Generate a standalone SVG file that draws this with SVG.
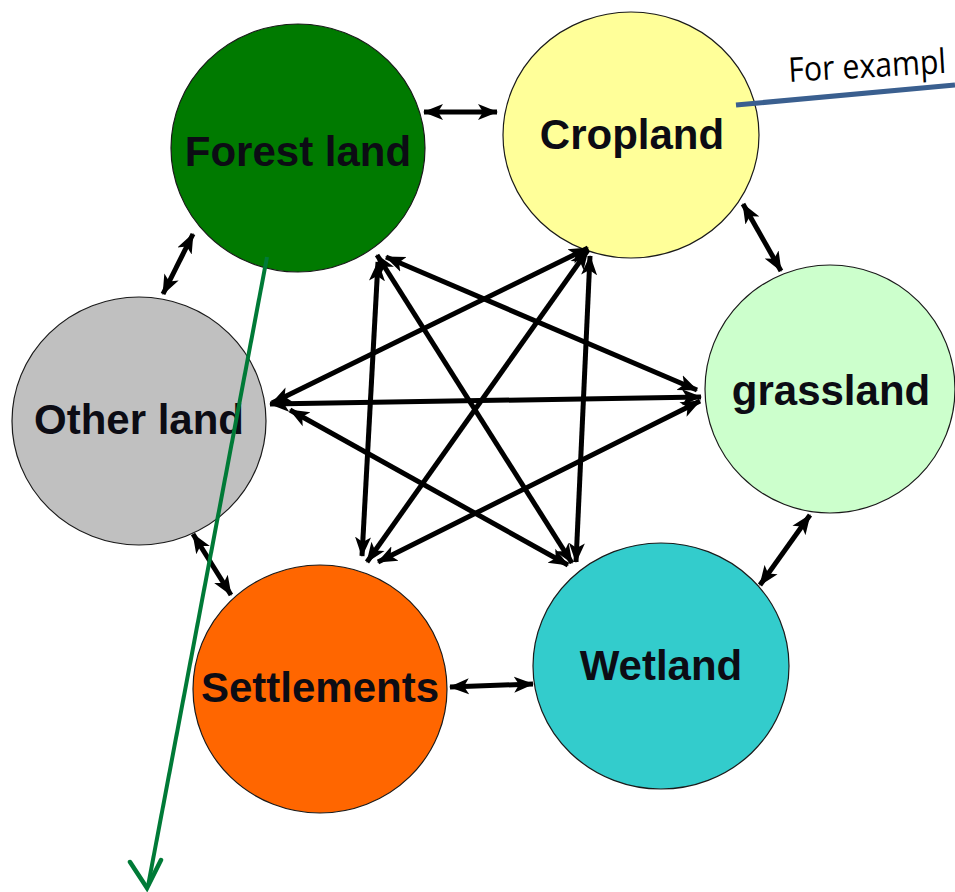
<svg xmlns="http://www.w3.org/2000/svg" width="955" height="892" viewBox="0 0 955 892">
<style>
.node{stroke:#1a1a1a;stroke-width:1.2}
.lbl{font-family:"Liberation Sans",Arial,sans-serif;font-weight:bold;font-size:42px;fill:#0c0c14;text-anchor:middle}
.c{stroke:#000;stroke-width:5;fill:none;marker-start:url(#ah);marker-end:url(#ah)}
.note{font-family:"Open Sans","Noto Sans",sans-serif;font-size:34px;fill:#000}
</style>
<defs>
<marker id="ah" viewBox="0 0 20 18" markerWidth="20" markerHeight="18" refX="19" refY="9" orient="auto-start-reverse" markerUnits="userSpaceOnUse">
<path d="M0,1 L20,9 L0,17 L5,9 z" fill="#000"/>
</marker>
</defs>
<rect width="955" height="892" fill="#fff"/>
<g id="nodes">
<g id="forest"><ellipse class="node" cx="298" cy="148" rx="127" ry="124" fill="#007A00"/><text class="lbl" x="298" y="166" fill="#000">Forest land</text></g>
<g id="cropland"><ellipse class="node" cx="631" cy="135" rx="128" ry="123" fill="#FFFF99"/><text class="lbl" x="632" y="149">Cropland</text></g>
<g id="grassland"><ellipse class="node" cx="830" cy="389" rx="125" ry="124" fill="#CCFFCC"/><text class="lbl" x="831" y="405">grassland</text></g>
<g id="wetland"><ellipse class="node" cx="661" cy="666" rx="128" ry="123" fill="#33CCCC"/><text class="lbl" x="661" y="680">Wetland</text></g>
<g id="settlements"><ellipse class="node" cx="320" cy="689" rx="127" ry="124" fill="#FF6600"/><text class="lbl" x="320" y="702">Settlements</text></g>
<g id="other"><ellipse class="node" cx="139" cy="421" rx="127" ry="124" fill="#C0C0C0"/><text class="lbl" x="139" y="434">Other land</text></g>
</g>
<g id="connectors">
<line class="c" x1="424" y1="112" x2="497" y2="112"/>
<line class="c" x1="743" y1="204" x2="781" y2="271"/>
<line class="c" x1="810" y1="515" x2="760" y2="585"/>
<line class="c" x1="450" y1="687" x2="533" y2="684"/>
<line class="c" x1="193" y1="534" x2="231" y2="595"/>
<line class="c" x1="163" y1="294" x2="193" y2="234"/>
<line class="c" x1="386" y1="257" x2="697" y2="390"/>
<line class="c" x1="377" y1="255" x2="572" y2="563"/>
<line class="c" x1="378" y1="262" x2="362" y2="556"/>
<line class="c" x1="588" y1="248" x2="272" y2="403"/>
<line class="c" x1="588" y1="250" x2="367" y2="562"/>
<line class="c" x1="590" y1="256" x2="576" y2="562"/>
<line class="c" x1="270" y1="404" x2="701" y2="397"/>
<line class="c" x1="700" y1="401" x2="378" y2="562"/>
<line class="c" x1="290" y1="410" x2="568" y2="565"/>
</g>
<g id="annotation">
<line x1="736" y1="105" x2="955" y2="85" stroke="#3A5F8F" stroke-width="5"/>
<text class="note" x="789" y="82" transform="rotate(-3.3 789 82)" textLength="158" lengthAdjust="spacingAndGlyphs">For exampl</text>
<line x1="267" y1="257" x2="148" y2="886" stroke="#007A37" stroke-width="4"/>
<polyline points="130,862 147,888 161,860" fill="none" stroke="#007A37" stroke-width="4.5" stroke-linecap="round" stroke-linejoin="miter"/>
</g>
</svg>
